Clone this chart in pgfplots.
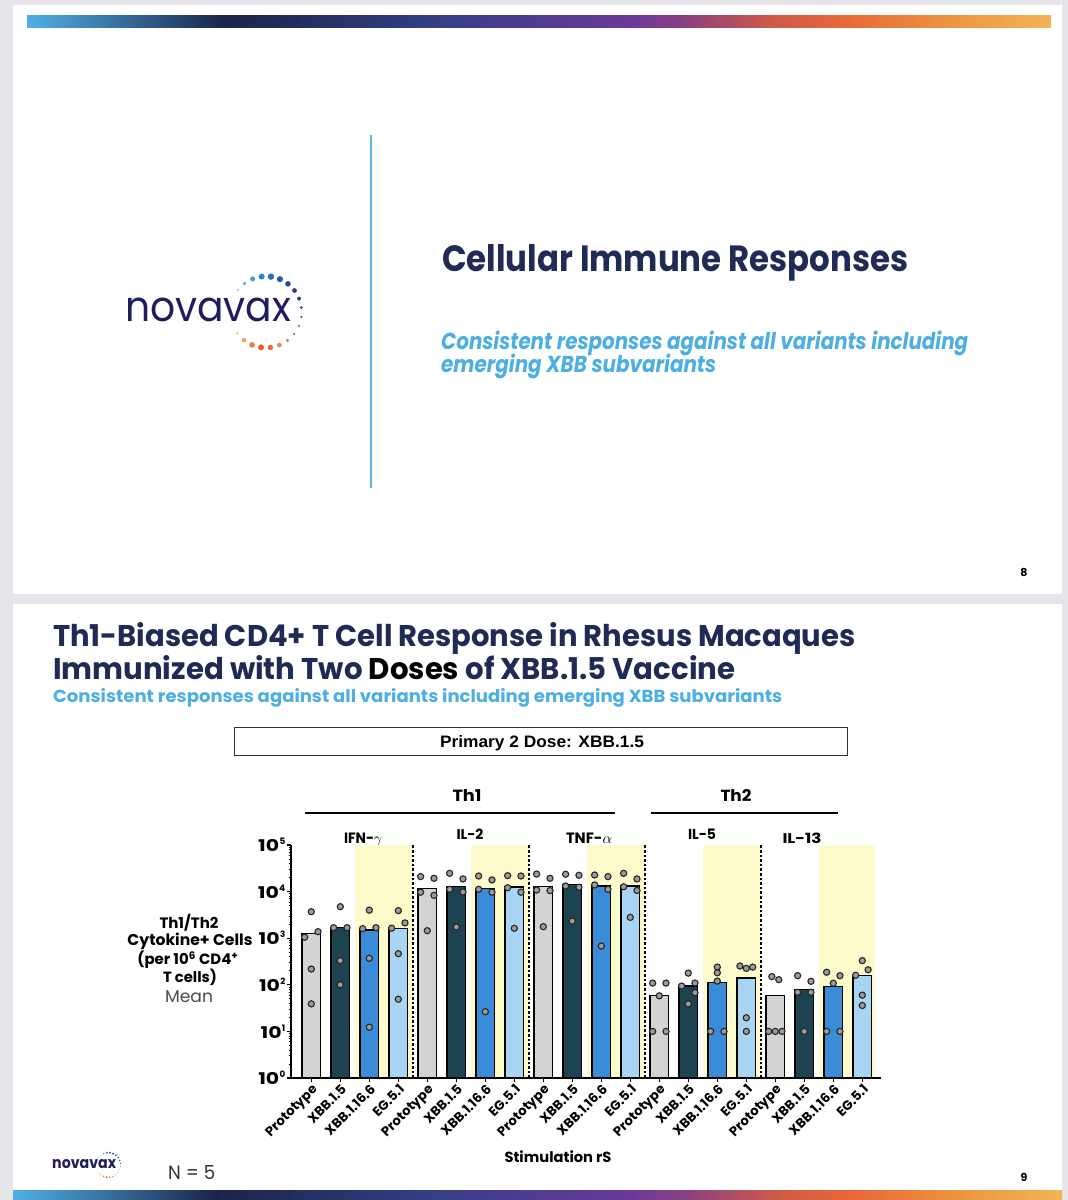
\documentclass[border=0pt]{standalone}
\usepackage{fontspec}
\setmainfont{Poppins}
\newfontfamily\arial{Liberation Sans}
\usepackage{graphicx}
\usepackage{pgfplots}
\pgfplotsset{compat=1.18}

\definecolor{cBg}{HTML}{E6E6EA}
\definecolor{cNavy}{HTML}{1F2A55}
\definecolor{cLblue}{HTML}{4BAFE3}
\definecolor{cLine}{HTML}{5AB4E0}
\definecolor{cProto}{HTML}{D3D3D3}
\definecolor{cXa}{HTML}{1D4350}
\definecolor{cXb}{HTML}{3A8BD8}
\definecolor{cEG}{HTML}{A9D5F4}
\definecolor{cYel}{HTML}{FDFBCB}
\definecolor{cDot}{HTML}{9C9C9C}
\definecolor{cLogo}{HTML}{1E1E5C}

\definecolor{g0}{HTML}{4FB0E6}
\definecolor{g1}{HTML}{1B2448}
\definecolor{g2}{HTML}{323E84}
\definecolor{g3}{HTML}{6A3A9A}
\definecolor{g3b}{HTML}{8A4080}
\definecolor{g4}{HTML}{D05A48}
\definecolor{g5}{HTML}{E86838}
\definecolor{g6}{HTML}{EC9040}
\definecolor{g7}{HTML}{F2B456}
\pgfdeclarehorizontalshading{novagrad}{100bp}{color(0bp)=(g0); color(25bp)=(g0); color(34.7bp)=(g1); color(44.5bp)=(g2); color(54.5bp)=(g3); color(57bp)=(g3b); color(61.5bp)=(g4); color(65bp)=(g5); color(69.5bp)=(g6); color(75bp)=(g7); color(100bp)=(g7)}

\definecolor{L1}{HTML}{8ECDF2}\definecolor{L2}{HTML}{5EB6EA}\definecolor{L3}{HTML}{3D9DE0}
\definecolor{L4}{HTML}{2F82D0}\definecolor{L5}{HTML}{2A6CC0}\definecolor{L6}{HTML}{2A5AAE}
\definecolor{L7}{HTML}{2B4A98}\definecolor{L8}{HTML}{2D3F86}\definecolor{L9}{HTML}{38427E}
\definecolor{L10}{HTML}{4A4E84}\definecolor{L11}{HTML}{625E8A}\definecolor{L12}{HTML}{86708E}
\definecolor{L13}{HTML}{B08482}\definecolor{L14}{HTML}{D88C6A}\definecolor{L15}{HTML}{E88650}
\definecolor{L16}{HTML}{E86E3A}\definecolor{L17}{HTML}{E45C30}\definecolor{L18}{HTML}{EA7A40}
\definecolor{L19}{HTML}{F0A456}\definecolor{L20}{HTML}{F5C88A}

\newcommand\logoring[3]{%
 \begin{scope}[shift={(#1,#2)}, scale=#3]
 \foreach \aa/\rr/\cc in {142/1.3/L1,127/1.9/L2,112/2.5/L3,97/3.0/L4,82/3.2/L5,67/3.1/L6,52/2.8/L7,37/2.4/L8,22/2.0/L9,7/1.6/L10,-8/1.3/L11,-23/1.2/L12,-38/1.4/L13,-53/1.8/L14,-68/2.3/L15,-83/2.8/L16,-98/3.0/L17,-113/2.8/L18,-128/2.2/L19,-143/1.5/L20}
   {\fill[\cc] (\aa:35.7) circle (\rr);}
 \end{scope}}

\newcommand\ytl[1]{\resizebox{21pt}{12pt}{\bfseries 10}\hspace{0.3pt}\raisebox{7pt}{\resizebox{!}{6.5pt}{\bfseries #1}}}

\begin{document}
\begin{tikzpicture}[x=1pt,y=1pt]
\useasboundingbox (0,0) rectangle (1068,1200);
\fill[cBg] (0,0) rectangle (1068,1200);
% slides
\fill[white] (13,606) rectangle (1062,1195);
\fill[white] (13,0) rectangle (1062,596);
\shade[shading=novagrad] (27,1172) rectangle (1051,1184);
\shade[shading=novagrad] (13,0) rectangle (1062,9);

% ---------- top slide ----------
\draw[cLine, line width=1.5pt] (371,712) -- (371,1065);
\node[anchor=base west, inner sep=0pt, text=cLogo] at (125,878) {\resizebox{166pt}{23.5pt}{novavax}};
\logoring{266}{888}{1}
\node[anchor=base west, inner sep=0pt, text=cNavy] at (442,928) {\resizebox{466pt}{27pt}{\bfseries Cellular Immune Responses}};
\node[anchor=base west, inner sep=0pt, text=cLblue] at (441,850) {\resizebox{527pt}{18.5pt}{\bfseries\itshape Consistent responses against all variants including}};
\node[anchor=base west, inner sep=0pt, text=cLblue] at (441,827) {\resizebox{275pt}{18.5pt}{\bfseries\itshape emerging XBB subvariants}};
\node[inner sep=0pt, font=\bfseries\fontsize{11}{11}\selectfont] at (1024,628) {8};

% ---------- bottom slide ----------
\node[anchor=base west, inner sep=0pt, text=cNavy] at (53,553) {\resizebox{802pt}{24pt}{\bfseries Th1-Biased CD4+ T Cell Response in Rhesus Macaques}};
\node[anchor=base west, inner sep=0pt, text=cNavy] at (53,520) {\resizebox{682pt}{24pt}{\bfseries Immunized with Two \textcolor{black}{Doses} of XBB.1.5 Vaccine}};
\node[anchor=base west, inner sep=0pt, text=cLblue] at (53,497) {\resizebox{729pt}{14pt}{\bfseries Consistent responses against all variants including emerging XBB subvariants}};

\draw[black!80, line width=1pt] (234,444) rectangle (847,472);
\node[anchor=base, inner sep=0pt] at (542,452) {\resizebox{204pt}{12pt}{\arial\bfseries Primary 2 Dose: XBB.1.5}};

\node[anchor=base, inner sep=0pt] at (467,398) {\resizebox{29pt}{12pt}{\bfseries Th1}};
\node[anchor=base, inner sep=0pt] at (736,398) {\resizebox{31pt}{12pt}{\bfseries Th2}};
\draw[black, line width=1.5pt] (305,387) -- (615,387);
\draw[black, line width=1.5pt] (651,387) -- (838,387);

\node[anchor=base, inner sep=0pt] at (363,356) {\resizebox{38pt}{10.5pt}{\bfseries IFN-$\gamma$}};
\node[anchor=base, inner sep=0pt] at (470,360) {\resizebox{27pt}{10.5pt}{\bfseries IL-2}};
\node[anchor=base, inner sep=0pt] at (589,356) {\resizebox{46pt}{10.5pt}{\bfseries TNF-$\alpha$}};
\node[anchor=base, inner sep=0pt] at (702,360) {\resizebox{28pt}{10.5pt}{\bfseries IL-5}};
\node[anchor=base, inner sep=0pt] at (802,356) {\resizebox{39pt}{10.5pt}{\bfseries IL-13}};

% y label
\node[anchor=base, inner sep=0pt] at (189,271) {\resizebox{59pt}{!}{\bfseries\fontsize{14}{14}\selectfont Th1/Th2}};
\node[anchor=base, inner sep=0pt] at (190,254) {\resizebox{125pt}{!}{\bfseries\fontsize{14}{14}\selectfont Cytokine+ Cells}};
\node[anchor=base, inner sep=0pt] at (188,235) {\resizebox{101pt}{!}{\bfseries\fontsize{14}{14}\selectfont (per 10\textsuperscript{6} CD4\textsuperscript{+}}};
\node[anchor=base, inner sep=0pt] at (190,217) {\resizebox{54pt}{!}{\bfseries\fontsize{14}{14}\selectfont T cells)}};
\node[anchor=base, inner sep=0pt, text=black!70] at (189,197) {\resizebox{48pt}{!}{\fontsize{14}{14}\selectfont Mean}};

\node[anchor=base, inner sep=0pt] at (558,37) {\resizebox{107pt}{!}{\bfseries\fontsize{15}{15}\selectfont Stimulation rS}};

% footer
\node[anchor=base west, inner sep=0pt, text=cLogo] at (52,31) {\resizebox{64pt}{9pt}{\bfseries novavax}};
\logoring{108.3}{35}{0.345}
\node[anchor=base west, inner sep=0pt, text=black!80] at (168,20) {\resizebox{47pt}{14pt}{N = 5}};
\node[inner sep=0pt, font=\bfseries\fontsize{11}{11}\selectfont] at (1024,23) {9};

\begin{axis}[
  at={(291pt,122pt)}, anchor=south west, scale only axis,
  width=590.15pt, height=233pt,
  xmin=-0.7, xmax=19.65, ymin=1, ymax=100000, ymode=log,
  axis x line*=bottom, axis y line*=left,
  axis line style={-, line width=1.4pt, black},
  axis on top, clip=false,
  xtick={0,...,19},
  xticklabels={Prototype,XBB.1.5,XBB.1.16.6,EG.5.1,Prototype,XBB.1.5,XBB.1.16.6,EG.5.1,Prototype,XBB.1.5,XBB.1.16.6,EG.5.1,Prototype,XBB.1.5,XBB.1.16.6,EG.5.1,Prototype,XBB.1.5,XBB.1.16.6,EG.5.1},
  xticklabel style={rotate=45, anchor=north east, inner sep=0.5pt, font=\bfseries\fontsize{13.2}{13.2}\selectfont},
  ytick={1,10,100,1000,10000,100000},
  yticklabels={\ytl{0},\ytl{1},\ytl{2},\ytl{3},\ytl{4},\ytl{5}},
  minor ytick={2,3,4,5,6,7,8,9,20,30,40,50,60,70,80,90,200,300,400,500,600,700,800,900,2000,3000,4000,5000,6000,7000,8000,9000,20000,30000,40000,50000,60000,70000,80000,90000},
  yticklabel style={inner sep=1pt},
  tick align=outside,
  major tick length=4.5pt, minor tick length=2.5pt,
  major tick style={black, line width=1.2pt},
  minor tick style={black, line width=0.8pt},
]
% yellow shading
\addplot[fill=cYel, draw=none] coordinates {(1.5,1) (1.5,100000) (3.5,100000) (3.5,1)} -- cycle;
\addplot[fill=cYel, draw=none] coordinates {(5.5,1) (5.5,100000) (7.5,100000) (7.5,1)} -- cycle;
\addplot[fill=cYel, draw=none] coordinates {(9.5,1) (9.5,100000) (11.5,100000) (11.5,1)} -- cycle;
\addplot[fill=cYel, draw=none] coordinates {(13.5,1) (13.5,100000) (15.5,100000) (15.5,1)} -- cycle;
\addplot[fill=cYel, draw=none] coordinates {(17.5,1) (17.5,100000) (19.43,100000) (19.43,1)} -- cycle;
% dashed separators
\addplot[black, line width=1.4pt, dash pattern=on 2.6pt off 2pt] coordinates {(3.5,1) (3.5,100000)};
\addplot[black, line width=1.4pt, dash pattern=on 2.6pt off 2pt] coordinates {(7.5,1) (7.5,100000)};
\addplot[black, line width=1.4pt, dash pattern=on 2.6pt off 2pt] coordinates {(11.5,1) (11.5,100000)};
\addplot[black, line width=1.4pt, dash pattern=on 2.6pt off 2pt] coordinates {(15.5,1) (15.5,100000)};
% bars (means)
\addplot[ybar, bar width=18.5pt, bar shift=0pt, fill=cProto, draw=black, line width=1.2pt] coordinates {(0,1250) (4,11700) (8,12700) (12,58) (16,58)};
\addplot[ybar, bar width=18.5pt, bar shift=0pt, fill=cXa, draw=black, line width=1.2pt] coordinates {(1,1700) (5,12700) (9,14300) (13,94) (17,80)};
\addplot[ybar, bar width=18.5pt, bar shift=0pt, fill=cXb, draw=black, line width=1.2pt] coordinates {(2,1500) (6,11500) (10,13200) (14,110) (18,93)};
\addplot[ybar, bar width=18.5pt, bar shift=0pt, fill=cEG, draw=black, line width=1.2pt] coordinates {(3,1600) (7,12500) (11,13200) (15,140) (19,157)};
% individual animals
\addplot[only marks, mark=*, mark size=3.1pt, mark options={fill=cDot, draw=black!85, line width=1.1pt}] table {
x y
0 3700
-0.23 1050
0.23 1380
0 218
0 39
1 4750
0.77 1680
1.23 1680
1 330
1 100
2 4000
1.77 1600
2.23 1680
2 370
2 12.3
3 3900
2.77 1640
3.23 2130
3 465
3 49
3.77 21000
4.23 19300
3.77 9700
4.23 8300
4 1450
4.77 24700
5.23 18700
4.77 11200
5.23 9800
5 1740
5.77 21600
6.23 17800
5.77 11200
6.23 9700
6 26.5
6.77 22000
7.23 21600
6.77 12100
7.23 9700
7 1630
7.77 23800
8.23 19300
7.77 10800
8.23 10500
8 1770
8.77 23600
9.23 22400
8.77 13200
9.23 12400
9 2330
9.77 22700
10.23 21000
9.77 13900
10.23 11200
10 680
10.77 24700
11.23 18700
10.77 12700
11.23 10600
11 2800
11.77 109
12.23 109
12 58
11.77 10
12.23 10
13 178
12.77 94
13.23 109
13.23 68
13 39
14 240
14 181
14 120
13.77 10
14.23 10
14.78 253
15 225
15.22 240
15 19.6
15 10
15.88 150
16.12 129
15.77 10
16 10
16.23 10
16.77 157
17.23 119
16.77 69
17.23 69
17 10
17.77 186
18.23 157
18 108
17.77 10
18.23 10
19 330
19.2 210
18.77 160
19 60
19 36
};
\end{axis}
\end{tikzpicture}
\end{document}
